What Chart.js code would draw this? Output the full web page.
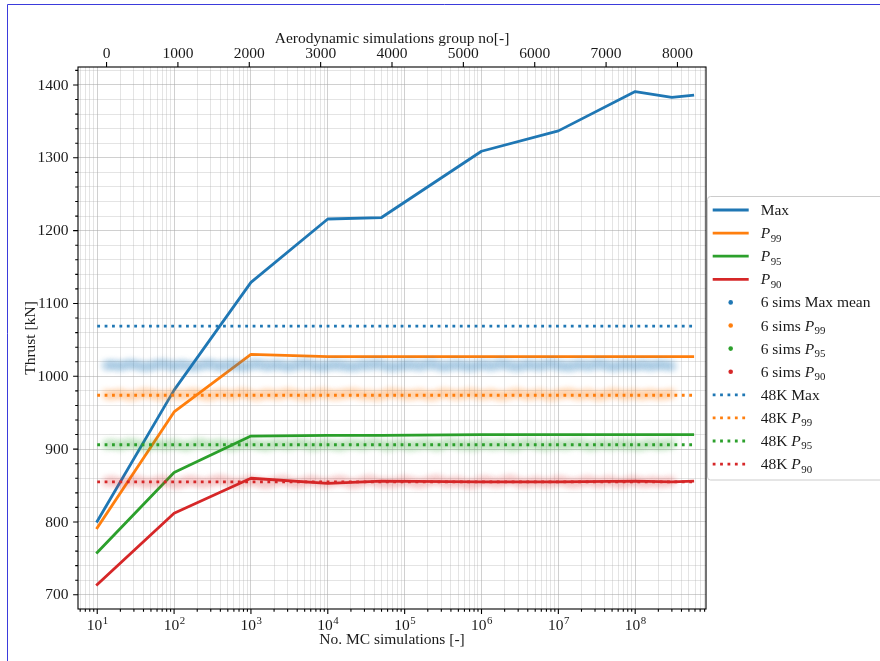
<!DOCTYPE html>
<html>
<head>
<meta charset="utf-8">
<script src="https://cdn.jsdelivr.net/npm/chart.js@4/dist/chart.umd.min.js"></script>
<style>
  html, body { margin: 0; padding: 0; background: #fff; }
  canvas { display: block; }
</style>
</head>
<body>
<canvas id="c" width="880" height="661"></canvas>
<script>
// Number of Monte Carlo simulations (bottom, log axis)
const MC_SIMS = [10, 100, 1000, 1e4, 5e4, 1e6, 1e7, 1e8, 3e8, 5.6e8];

// Thrust statistics vs. number of MC simulations [kN]
const THRUST_MAX = [801, 981, 1129, 1216, 1218, 1309, 1337, 1391, 1383, 1386];
const THRUST_P99 = [792, 951, 1030, 1027, 1027, 1027, 1027, 1027, 1027, 1027];
const THRUST_P95 = [758, 868, 918, 919, 919, 920, 920, 920, 920, 920];
const THRUST_P90 = [714, 812, 860, 853, 856, 855, 855, 856, 855, 856];

// Reference levels from the 48K simulation set [kN]
const REF48K_MAX = 1069;
const REF48K_P99 = 974;
const REF48K_P95 = 906;
const REF48K_P90 = 855;

// Aerodynamic simulation group number (top axis)
const GROUP_NO = [
  0, 80, 160, 240, 320, 400, 480, 560, 640, 720,
  800, 880, 960, 1040, 1120, 1200, 1280, 1360, 1440, 1520,
  1600, 1680, 1760, 1840, 1920, 2000, 2080, 2160, 2240, 2320,
  2400, 2480, 2560, 2640, 2720, 2800, 2880, 2960, 3040, 3120,
  3200, 3280, 3360, 3440, 3520, 3600, 3680, 3760, 3840, 3920,
  4000, 4080, 4160, 4240, 4320, 4400, 4480, 4560, 4640, 4720,
  4800, 4880, 4960, 5040, 5120, 5200, 5280, 5360, 5440, 5520,
  5600, 5680, 5760, 5840, 5920, 6000, 6080, 6160, 6240, 6320,
  6400, 6480, 6560, 6640, 6720, 6800, 6880, 6960, 7040, 7120,
  7200, 7280, 7360, 7440, 7520, 7600, 7680, 7760, 7840, 7920
];

// Per-group statistics from 6 simulations [kN]
const SIMS6_MAX_MEAN = [
  1015, 1016, 1014, 1015, 1017, 1016, 1014, 1013, 1015, 1016,
  1017, 1015, 1014, 1016, 1015, 1013, 1014, 1016, 1017, 1015,
  1014, 1015, 1016, 1014, 1013, 1015, 1017, 1016, 1014, 1015,
  1016, 1014, 1013, 1015, 1016, 1017, 1015, 1014, 1013, 1015,
  1016, 1015, 1014, 1013, 1014, 1016, 1015, 1017, 1016, 1014,
  1013, 1014, 1015, 1016, 1015, 1014, 1016, 1017, 1015, 1013,
  1014, 1016, 1015, 1014, 1013, 1015, 1016, 1014, 1015, 1017,
  1016, 1014, 1013, 1015, 1016, 1015, 1014, 1016, 1017, 1015,
  1014, 1013, 1015, 1016, 1014, 1015, 1017, 1016, 1014, 1013,
  1015, 1016, 1014, 1015, 1016, 1014, 1015, 1016, 1015, 1014
];
const SIMS6_P99 = [
  975, 974, 976, 975, 973, 974, 976, 977, 975, 974,
  973, 975, 976, 974, 975, 977, 976, 974, 973, 975,
  976, 975, 974, 976, 977, 975, 973, 974, 976, 975,
  974, 976, 977, 975, 974, 973, 975, 976, 977, 975,
  974, 975, 976, 977, 976, 974, 975, 973, 974, 976,
  977, 976, 975, 974, 975, 976, 974, 973, 975, 977,
  976, 974, 975, 976, 977, 975, 974, 976, 975, 973,
  974, 976, 977, 975, 974, 975, 976, 974, 973, 975,
  976, 977, 975, 974, 976, 975, 973, 974, 976, 977,
  975, 974, 976, 975, 974, 976, 975, 974, 975, 976
];
const SIMS6_P95 = [
  906, 907, 905, 906, 908, 907, 905, 904, 906, 907,
  905, 906, 907, 905, 904, 906, 908, 907, 905, 906,
  907, 905, 904, 906, 907, 908, 906, 905, 904, 906,
  907, 906, 905, 907, 908, 906, 904, 905, 907, 906,
  905, 904, 906, 907, 906, 905, 907, 908, 906, 904,
  905, 907, 906, 904, 905, 906, 907, 905, 904, 906,
  908, 907, 905, 906, 904, 905, 907, 906, 905, 907,
  906, 904, 905, 907, 908, 906, 905, 904, 906, 907,
  905, 906, 908, 907, 905, 904, 906, 907, 905, 906,
  907, 905, 906, 904, 905, 907, 906, 905, 906, 907
];
const SIMS6_P90 = [
  855, 857, 854, 853, 856, 858, 855, 853, 854, 856,
  857, 855, 852, 854, 856, 857, 855, 853, 855, 857,
  858, 856, 854, 853, 855, 857, 856, 854, 852, 855,
  856, 858, 855, 853, 854, 856, 857, 855, 853, 854,
  856, 857, 855, 852, 854, 856, 858, 856, 854, 855,
  853, 855, 857, 856, 854, 853, 855, 857, 858, 855,
  854, 856, 855, 853, 852, 855, 857, 856, 854, 855,
  857, 858, 855, 853, 854, 856, 855, 853, 855, 857,
  856, 854, 853, 855, 857, 856, 854, 855, 857, 855,
  853, 855, 857, 856, 854, 855, 856, 854, 855, 856
];

// Axis tick labels
const X_DECADES = [1, 2, 3, 4, 5, 6, 7, 8];
const TOP_TICKS = [0, 1000, 2000, 3000, 4000, 5000, 6000, 7000, 8000];
const Y_TICKS = [700, 800, 900, 1000, 1100, 1200, 1300, 1400];

const C_BLUE = '#1f77b4', C_ORANGE = '#ff7f0e', C_GREEN = '#2ca02c', C_RED = '#d62728';
const SERIF = '"Liberation Serif", "Times New Roman", serif';

const pairs = (xs, ys) => xs.map((x, i) => ({ x, y: ys[i] }));
const flat = (v) => [{ x: MC_SIMS[0], y: v }, { x: MC_SIMS[MC_SIMS.length - 1], y: v }];
const rgba = (hex, a) => {
  const n = parseInt(hex.slice(1), 16);
  return `rgba(${n >> 16},${(n >> 8) & 255},${n & 255},${a})`;
};

function lineSet(label, ys, color, order) {
  return { label, kind: 'line', data: pairs(MC_SIMS, ys), borderColor: color, backgroundColor: color,
    borderWidth: 2.8, pointRadius: 0, tension: 0, xAxisID: 'x', yAxisID: 'y', order,
    borderCapStyle: 'square', borderJoinStyle: 'round' };
}
function cloudSet(label, ys, color, order, alpha) {
  return { type: 'scatter', label, kind: 'dot', cloud: true, data: pairs(GROUP_NO, ys),
    borderColor: color, backgroundColor: rgba(color, alpha), pointRadius: 6, pointBorderWidth: 0,
    pointHoverRadius: 6, showLine: false, xAxisID: 'xTop', yAxisID: 'y', order };
}
function refSet(label, v, color, order) {
  return { label, kind: 'dotted', data: flat(v), borderColor: color, backgroundColor: color,
    borderWidth: 2.8, borderDash: [2.8, 4.6], borderCapStyle: 'butt', pointRadius: 0,
    xAxisID: 'x', yAxisID: 'y', order };
}

const datasets = [
  lineSet('Max', THRUST_MAX, C_BLUE, 13),
  lineSet('P_99', THRUST_P99, C_ORANGE, 12),
  lineSet('P_95', THRUST_P95, C_GREEN, 11),
  lineSet('P_90', THRUST_P90, C_RED, 10),
  cloudSet('6 sims Max mean', SIMS6_MAX_MEAN, C_BLUE, 9, 0.22),
  cloudSet('6 sims P_99', SIMS6_P99, C_ORANGE, 8, 0.2),
  cloudSet('6 sims P_95', SIMS6_P95, C_GREEN, 7, 0.17),
  cloudSet('6 sims P_90', SIMS6_P90, C_RED, 6, 0.15),
  refSet('48K Max', REF48K_MAX, C_BLUE, 5),
  refSet('48K P_99', REF48K_P99, C_ORANGE, 4),
  refSet('48K P_95', REF48K_P95, C_GREEN, 3),
  refSet('48K P_90', REF48K_P90, C_RED, 2)
];

const isDecade = (v) => Math.abs(Math.log10(v) - Math.round(Math.log10(v))) < 1e-9;

// Draws label text with "P_nn" rendered as italic P with a subscript
function drawRichLabel(ctx, text, x, y, size) {
  const parts = text.split(/(P_\d+)/);
  let cx = x;
  for (const p of parts) {
    if (!p) continue;
    const m = p.match(/^P_(\d+)$/);
    if (m) {
      ctx.font = `italic ${size}px ${SERIF}`;
      ctx.fillText('P', cx, y);
      cx += ctx.measureText('P').width + 0.5;
      ctx.font = `${size * 0.7}px ${SERIF}`;
      ctx.fillText(m[1], cx, y + size * 0.22);
      cx += ctx.measureText(m[1]).width;
    } else {
      ctx.font = `${size}px ${SERIF}`;
      ctx.fillText(p, cx, y);
      cx += ctx.measureText(p).width;
    }
  }
}

const decor = {
  id: 'decor',
  beforeDatasetDraw(chart, args) {
    if (chart.data.datasets[args.index].cloud) {
      chart.ctx.save();
      chart.ctx.filter = 'blur(2.5px)';
    }
  },
  afterDatasetDraw(chart, args) {
    if (chart.data.datasets[args.index].cloud) chart.ctx.restore();
  },
  afterDraw(chart) {
    const { ctx, chartArea: a, scales } = chart;
    const xs = scales.x, xt = scales.xTop, ys = scales.y;
    const TXT = '#1a1a1a';
    const FS = 15.5;
    ctx.save();

    // spines
    ctx.strokeStyle = '#000';
    ctx.lineWidth = 1.1;
    ctx.strokeRect(a.left, a.top, a.right - a.left, a.bottom - a.top);

    // y ticks: major every 100, minor every 20
    ctx.beginPath();
    for (let v = 700; v <= 1420; v += 20) {
      const py = ys.getPixelForValue(v);
      const len = (v % 100 === 0) ? 4.9 : 2.8;
      ctx.moveTo(a.left, py); ctx.lineTo(a.left - len, py);
    }
    // bottom log ticks
    for (const t of xs.ticks) {
      const px = xs.getPixelForValue(t.value);
      if (px < a.left - 0.5 || px > a.right + 0.5) continue;
      const len = isDecade(t.value) ? 4.9 : 2.8;
      ctx.moveTo(px, a.bottom); ctx.lineTo(px, a.bottom + len);
    }
    // top linear ticks
    for (const v of TOP_TICKS) {
      const px = xt.getPixelForValue(v);
      ctx.moveTo(px, a.top); ctx.lineTo(px, a.top - 4.9);
    }
    ctx.stroke();

    ctx.fillStyle = TXT;
    // y tick labels
    ctx.font = `${FS}px ${SERIF}`;
    ctx.textAlign = 'right';
    ctx.textBaseline = 'middle';
    for (const v of Y_TICKS) ctx.fillText(String(v), a.left - 9.5, ys.getPixelForValue(v) + 0.5);

    // top tick labels
    ctx.textAlign = 'center';
    ctx.textBaseline = 'alphabetic';
    for (const v of TOP_TICKS) ctx.fillText(String(v), xt.getPixelForValue(v), a.top - 9);

    // bottom tick labels 10^n
    ctx.textAlign = 'left';
    for (const n of X_DECADES) {
      const px = xs.getPixelForValue(Math.pow(10, n));
      ctx.font = `${FS}px ${SERIF}`;
      const w1 = ctx.measureText('10').width;
      ctx.font = `${FS * 0.7}px ${SERIF}`;
      const w2 = ctx.measureText(String(n)).width;
      const x0 = px - (w1 + w2) / 2;
      ctx.font = `${FS}px ${SERIF}`;
      ctx.fillText('10', x0, a.bottom + 21);
      ctx.font = `${FS * 0.7}px ${SERIF}`;
      ctx.fillText(String(n), x0 + w1 + 0.5, a.bottom + 14.5);
    }

    // axis titles
    ctx.font = `${FS}px ${SERIF}`;
    ctx.textAlign = 'center';
    ctx.fillText('Aerodynamic simulations group no[-]', (a.left + a.right) / 2, 43);
    ctx.fillText('No. MC simulations [-]', (a.left + a.right) / 2, a.bottom + 35);
    ctx.save();
    ctx.translate(31, (a.top + a.bottom) / 2);
    ctx.rotate(-Math.PI / 2);
    ctx.textBaseline = 'middle';
    ctx.fillText('Thrust [kN]', 0, 0);
    ctx.restore();

    // legend
    const lx = 707.5, ly = 196.5;
    ctx.beginPath();
    ctx.roundRect(lx, ly, 200, 283.5, 3);
    ctx.fillStyle = 'rgba(255,255,255,0.85)';
    ctx.fill();
    ctx.strokeStyle = '#cccccc';
    ctx.lineWidth = 1;
    ctx.stroke();
    const ds = chart.data.datasets;
    ds.forEach((d, i) => {
      const ry = 210 + i * 23.1;
      ctx.save();
      if (d.kind === 'line' || d.kind === 'dotted') {
        ctx.strokeStyle = d.borderColor;
        ctx.lineWidth = 2.8;
        ctx.lineCap = 'butt';
        ctx.setLineDash(d.kind === 'dotted' ? [2.8, 4.6] : []);
        ctx.beginPath();
        ctx.moveTo(712.7, ry); ctx.lineTo(748.7, ry);
        ctx.stroke();
      } else {
        ctx.fillStyle = d.borderColor;
        ctx.beginPath();
        ctx.arc(730.7, ry, 2.3, 0, Math.PI * 2);
        ctx.fill();
      }
      ctx.restore();
      ctx.fillStyle = TXT;
      ctx.textAlign = 'left';
      ctx.textBaseline = 'alphabetic';
      drawRichLabel(ctx, d.label, 760.7, ry + 5, FS);
    });

    // outer page frame
    ctx.strokeStyle = '#3b3bdc';
    ctx.lineWidth = 1;
    ctx.beginPath();
    ctx.moveTo(7.5, 700); ctx.lineTo(7.5, 4.5); ctx.lineTo(900, 4.5);
    ctx.stroke();

    ctx.restore();
  }
};

const gridMajor = 'rgba(170,170,170,0.55)';
const gridMinor = 'rgba(170,170,170,0.32)';

new Chart(document.getElementById('c'), {
  type: 'line',
  data: { datasets },
  options: {
    responsive: false,
    animation: false,
    devicePixelRatio: 1,
    events: [],
    layout: { padding: { left: 0, right: 174, top: 0, bottom: 0 } },
    plugins: { legend: { display: false }, tooltip: { enabled: false } },
    scales: {
      x: {
        type: 'logarithmic', position: 'bottom', min: 5.62, max: 8.34e8,
        afterBuildTicks(scale) {
          const t = [];
          for (let n = 0; n <= 8; n++) {
            for (let k = 1; k <= 9; k++) {
              const v = k * Math.pow(10, n);
              if (v >= scale.min && v <= scale.max) t.push({ value: v, major: k === 1 });
            }
          }
          scale.ticks = t;
        },
        afterFit(scale) { scale.height = 52; },
        ticks: { display: false },
        border: { display: false },
        grid: {
          drawTicks: false, lineWidth: 1,
          color: (c) => (c.tick && isDecade(c.tick.value)) ? gridMajor : gridMinor
        }
      },
      xTop: {
        type: 'linear', position: 'top', min: -400, max: 8400,
        afterBuildTicks(scale) { scale.ticks = TOP_TICKS.map((v) => ({ value: v })); },
        afterFit(scale) { scale.height = 67; },
        ticks: { display: false },
        border: { display: false },
        grid: { display: false, drawTicks: false }
      },
      y: {
        type: 'linear', position: 'left', min: 680.5, max: 1424.7,
        afterBuildTicks(scale) {
          const t = [];
          for (let v = 700; v <= 1420; v += 20) t.push({ value: v, major: v % 100 === 0 });
          scale.ticks = t;
        },
        afterFit(scale) { scale.width = 78; },
        ticks: { display: false },
        border: { display: false },
        grid: {
          drawTicks: false, lineWidth: 1,
          color: (c) => (c.tick && c.tick.value % 100 === 0) ? gridMajor : gridMinor
        }
      }
    }
  },
  plugins: [decor]
});
</script>
</body>
</html>
